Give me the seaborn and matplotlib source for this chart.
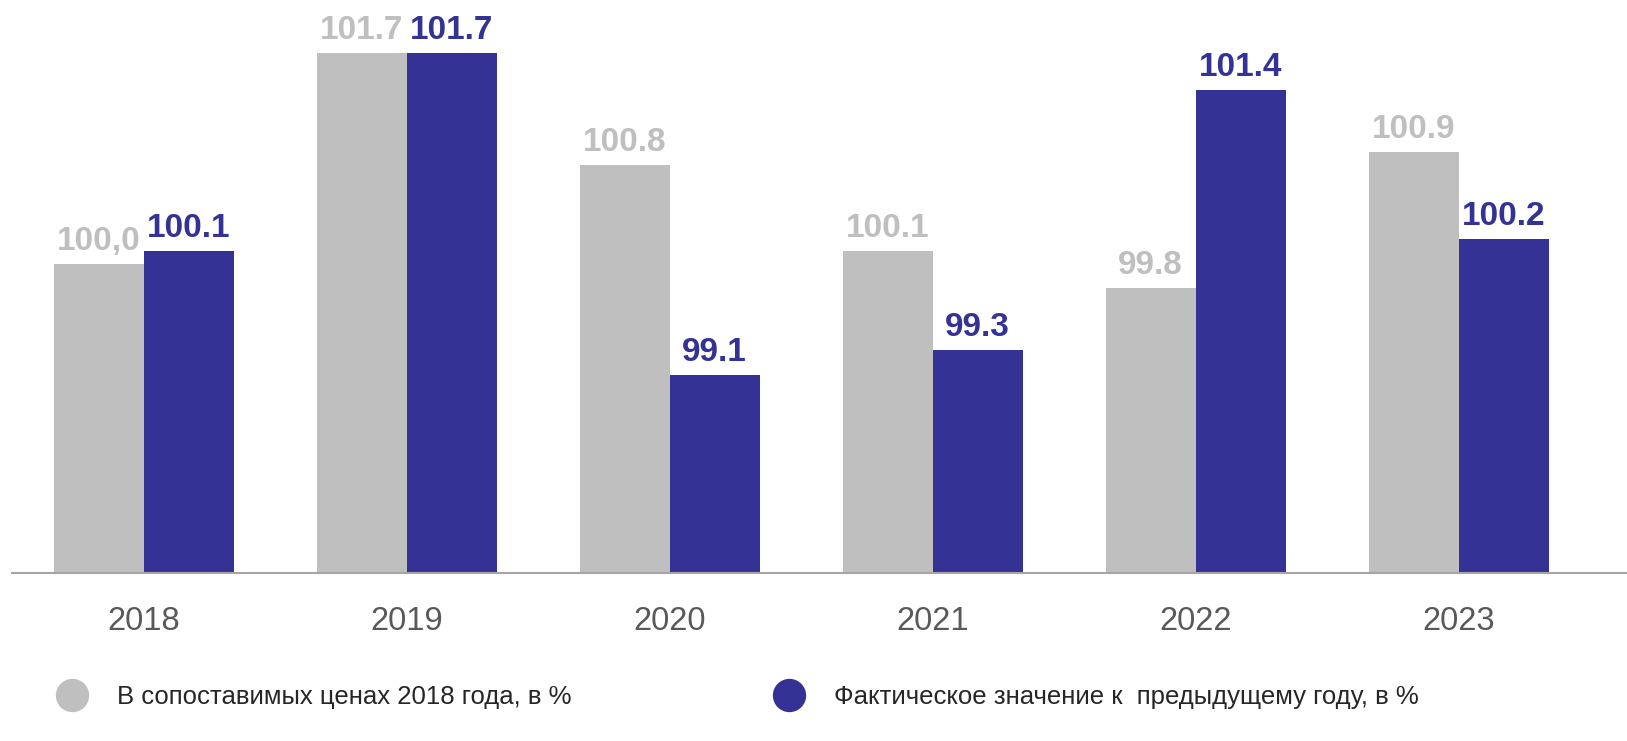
import pandas as pd
import numpy as np
import seaborn as sns
import matplotlib
from matplotlib import pyplot as plt
from matplotlib.lines import Line2D

years = ['2018', '2019', '2020', '2021', '2022', '2023']
series = ['В сопоставимых ценах 2018 года, в %', 'Фактическое значение к  предыдущему году, в %']
vals_cmp = [100.0, 101.7, 100.8, 100.1, 99.8, 100.9]
vals_fact = [100.1, 101.7, 99.1, 99.3, 101.4, 100.2]
lab_cmp = ['100,0', '101.7', '100.8', '100.1', '99.8', '100.9']
lab_fact = ['100.1', '101.7', '99.1', '99.3', '101.4', '100.2']

grey = '#bfbfbf'
blue = '#353295'

sns.set_style('white')
plt.rcParams['font.family'] = ['Liberation Sans', 'DejaVu Sans']

rows = []
for i in range(len(years)):
    rows.append([years[i], vals_cmp[i], series[0]])
    rows.append([years[i], vals_fact[i], series[1]])
df = pd.DataFrame(rows, columns=['год', 'значение', 'ряд'])

fig = plt.figure(figsize=(16.27, 7.41), dpi=100)
ax = fig.add_axes([0.0074, 0.2267, 0.9926, 0.7733])

sns.barplot(data=df, x='год', y='значение', hue='ряд', palette=[grey, blue],
            width=0.684, ax=ax, legend=False, saturation=1, edgecolor='none')

ax.bar_label(ax.containers[0], labels=lab_cmp, padding=5, color=grey,
             fontsize=24, fontweight='bold')
ax.bar_label(ax.containers[1], labels=lab_fact, padding=5, color=blue,
             fontsize=24, fontweight='bold')

ax.set_ylim(97.5, 102.13)
ax.set_xlim(-0.5, 5.64)
ax.set_yticks([])
ax.set_xlabel('')
ax.set_ylabel('')
for s in ['top', 'right', 'left']:
    ax.spines[s].set_visible(False)
ax.spines['bottom'].set_color('#a6a6a6')
ax.spines['bottom'].set_linewidth(1.5)
ax.tick_params(axis='x', length=0, pad=24, labelsize=23.5, labelcolor='#595959')

handles = [Line2D([], [], marker='o', linestyle='none', markersize=24,
                  markerfacecolor=c, markeredgecolor='none') for c in [grey, blue]]
fig.legend(handles, series, loc='center left', bbox_to_anchor=(0.014, 0.06),
           ncol=2, frameon=False, fontsize=18.5, labelcolor='#262626',
           handletextpad=0.75, columnspacing=7.5)

plt.savefig('out.png', dpi=100)
